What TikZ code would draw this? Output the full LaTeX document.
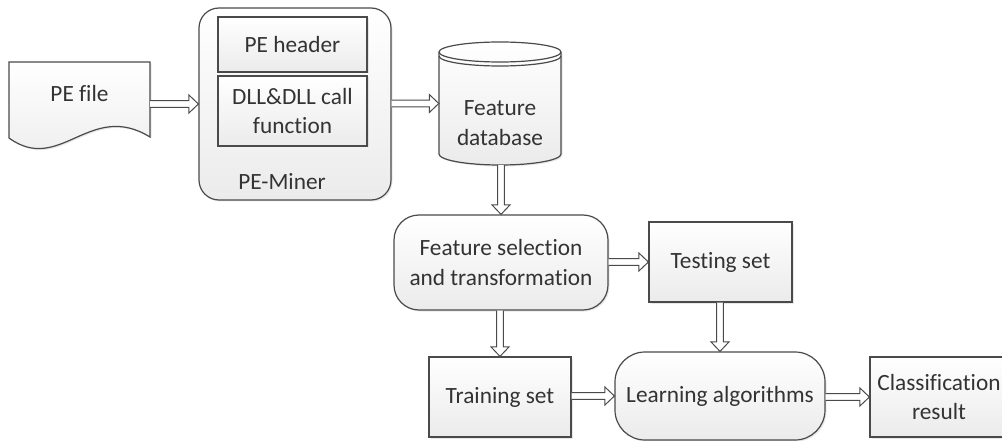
\documentclass[tikz,border=0pt]{standalone}
\usepackage{fontspec}
\setmainfont{Carlito}[Ligatures=NoCommon]
\usetikzlibrary{calc,shadows}
\definecolor{edgec}{HTML}{4A4A4A}
\definecolor{txtc}{HTML}{333333}
\definecolor{shadebot}{HTML}{EBEBEB}
\newcommand\diagfont{\fontsize{23.3}{29.5}\selectfont}
\tikzset{
  shadowed/.style={drop shadow={shadow xshift=1.5pt, shadow yshift=-1.5pt, opacity=0.18}},
  box/.style={draw=edgec, line width=1.2pt, top color=white, bottom color=shadebot,
    text=txtc, align=center, inner sep=0pt, font=\diagfont, shadowed},
  rbox/.style={box, rounded corners=#1},
  plain/.style={text=txtc, align=center, inner sep=0pt, font=\diagfont},
  shapefill/.style={draw=edgec, line width=1.2pt, top color=white, bottom color=shadebot, shadowed},
  flowarrow/.style={draw=edgec, fill=white, line width=1pt, line join=miter}
}
\newcommand\hflow[2]{\draw[flowarrow] let \p1=(#1), \p2=(#2) in
  (\x1,\y2+3.3pt) -- (\x2-9.5pt,\y2+3.3pt) -- (\x2-9.5pt,\y2+9pt) -- (\x2,\y2)
  -- (\x2-9.5pt,\y2-9pt) -- (\x2-9.5pt,\y2-3.3pt) -- (\x1,\y2-3.3pt);}
\newcommand\vflow[2]{\draw[flowarrow] let \p1=(#1), \p2=(#2) in
  (\x2-3.3pt,\y1) -- (\x2-3.3pt,\y2+9.5pt) -- (\x2-9pt,\y2+9.5pt) -- (\x2,\y2)
  -- (\x2+9pt,\y2+9.5pt) -- (\x2+3.3pt,\y2+9.5pt) -- (\x2+3.3pt,\y1);}
\begin{document}
\begin{tikzpicture}[x=1pt,y=-1pt]
\useasboundingbox (0,0) rectangle (1002,441);
% PE file (document shape)
\path[shapefill] (9,62) -- (150,62) -- (150,137)
  .. controls (90,100) and (60,175) .. (9,138) -- cycle;
\node[plain, minimum width=141pt, minimum height=76pt] (pefile) at (79.5,93) {PE file};
% PE-Miner
\node[rbox=20pt, minimum width=192pt, minimum height=192pt] (miner) at (295,104) {};
\node[box, minimum width=149pt, minimum height=55pt] (header) at (292.5,44.5) {PE header};
\node[box, minimum width=149pt, minimum height=70pt] (dll) at (292.5,111) {DLL\&DLL call\\function};
\node[plain] (minerlabel) at (282,182) {PE-Miner};
% Feature database (cylinder)
\path[shapefill] (439,52) -- (439,154)
  arc[start angle=180, end angle=0, x radius=61, y radius=11] -- (561,52)
  arc[start angle=0, end angle=-180, x radius=61, y radius=10] -- cycle;
\draw[edgec, line width=1.2pt] (439,52) arc[start angle=180, end angle=0, x radius=61, y radius=10];
\draw[edgec, line width=1.2pt] (439,56) arc[start angle=180, end angle=0, x radius=61, y radius=10];
\node[minimum width=122pt, minimum height=123pt, inner sep=0pt] (db) at (500,103.5) {};
\node[plain] (dbtext) at (500,123) {Feature\\database};
% Other nodes
\node[rbox=25pt, minimum width=214pt, minimum height=95pt] (fs) at (501,262.5) {Feature selection\\and transformation};
\node[box, minimum width=143pt, minimum height=80pt] (test) at (720.5,262) {Testing set};
\node[box, minimum width=142pt, minimum height=80pt] (train) at (500,397) {Training set};
\node[rbox=30pt, minimum width=210pt, minimum height=88pt] (learn) at (720,396) {Learning algorithms};
\node[box, minimum width=138pt, minimum height=80pt] (cls) at (939,397) {Classification\\result};
% Arrows
\hflow{pefile.east}{miner.west}
\hflow{miner.east}{db.west}
\vflow{db.south}{fs.north}
\hflow{fs.east}{test.west}
\vflow{fs.south}{train.north}
\vflow{test.south}{learn.north}
\hflow{train.east}{learn.west}
\hflow{learn.east}{cls.west}
\end{tikzpicture}
\end{document}
